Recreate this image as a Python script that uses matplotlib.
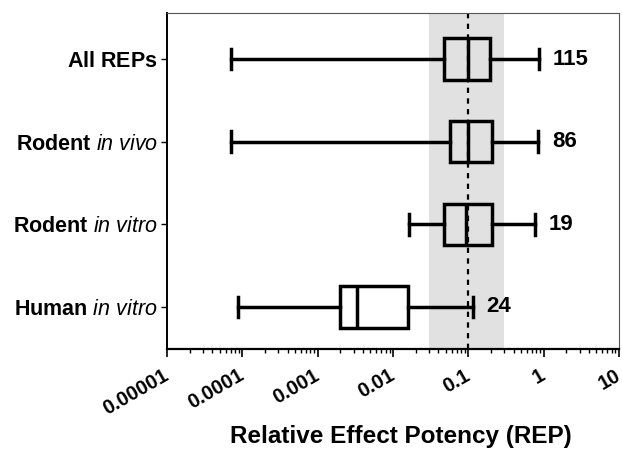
import matplotlib
matplotlib.use("Agg")
import matplotlib.pyplot as plt
from matplotlib.ticker import LogLocator, NullFormatter, FixedLocator

plt.rcParams['font.family'] = ['Liberation Sans', 'DejaVu Sans']
plt.rcParams['mathtext.fontset'] = 'custom'
plt.rcParams['mathtext.bf'] = 'Liberation Sans:bold'
plt.rcParams['mathtext.it'] = 'Liberation Sans:italic'
plt.rcParams['mathtext.rm'] = 'Liberation Sans'

# groups, top to bottom
groups = [r"$\mathbf{All\ REPs}$",
          r"$\mathbf{Rodent}\ \mathit{in\ vivo}$",
          r"$\mathbf{Rodent}\ \mathit{in\ vitro}$",
          r"$\mathbf{Human}\ \mathit{in\ vitro}$"]
counts = [115, 86, 19, 24]
whis_lo = [7e-5, 7e-5, 0.0165, 8.7e-5]
q1 = [0.048, 0.058, 0.047, 0.002]
med = [0.1, 0.1, 0.093, 0.0033]
q3 = [0.195, 0.205, 0.205, 0.016]
whis_hi = [0.87, 0.85, 0.77, 0.115]

ref_rep = 0.1
band = (0.03, 0.3)

fig = plt.figure(figsize=(6.22, 4.5), dpi=100)
ax = fig.add_axes([0.2685, 0.2244, 0.7265, 0.747])

ax.axvspan(band[0], band[1], color="#e1e1e1", zorder=0, lw=0)
ax.axvline(ref_rep, color="black", ls=(0, (2.4, 2.4)), lw=1.6, zorder=1)

ypos = [4, 3, 2, 1]
stats = []
for i in range(len(groups)):
    stats.append(dict(whislo=whis_lo[i], q1=q1[i], med=med[i], q3=q3[i],
                      whishi=whis_hi[i], fliers=[], label=groups[i]))

lw = 2.5
ax.bxp(stats, positions=ypos, orientation="horizontal", widths=0.5,
       showfliers=False, patch_artist=True,
       boxprops=dict(facecolor="none", edgecolor="black", linewidth=lw),
       medianprops=dict(color="black", linewidth=lw),
       whiskerprops=dict(color="black", linewidth=lw),
       capprops=dict(color="black", linewidth=lw), capwidths=0.25)

for i in range(len(groups)):
    ax.annotate(str(counts[i]), xy=(whis_hi[i], ypos[i]), xytext=(10, 0),
                textcoords="offset points", ha="left", va="center",
                fontsize=16, fontweight="bold")

ax.set_xscale("log")
ax.set_xlim(1e-5, 10)
ax.set_ylim(0.49, 4.56)
ax.xaxis.set_major_locator(FixedLocator([1e-5, 1e-4, 1e-3, 1e-2, 0.1, 1, 10]))
ax.xaxis.set_minor_locator(LogLocator(base=10, subs=range(2, 10), numticks=20))
ax.xaxis.set_minor_formatter(NullFormatter())
ax.set_xticklabels(["0.00001", "0.0001", "0.001", "0.01", "0.1", "1", "10"],
                   rotation=30, ha="right", va="center", rotation_mode="anchor",
                   fontsize=14.5, fontweight="bold")
ax.set_yticks(ypos)
ax.set_yticklabels(groups, fontsize=15.5)

ax.tick_params(axis="x", which="major", length=6, width=1.2, direction="out", pad=12)
ax.tick_params(axis="x", which="minor", length=3, width=1.0, direction="out")
ax.tick_params(axis="y", length=4.5, width=1.0, direction="out", pad=2)

ax.spines["left"].set_linewidth(1.4)
ax.spines["bottom"].set_linewidth(1.6)
ax.spines["top"].set_linewidth(0.8)
ax.spines["right"].set_linewidth(0.8)
ax.spines["top"].set_color("#555555")
ax.spines["right"].set_color("#555555")

ax.set_xlabel("Relative Effect Potency (REP)", fontsize=17.5, fontweight="bold")
ax.xaxis.set_label_coords(0.518, -0.226)

fig.savefig("out.png", dpi=100)
